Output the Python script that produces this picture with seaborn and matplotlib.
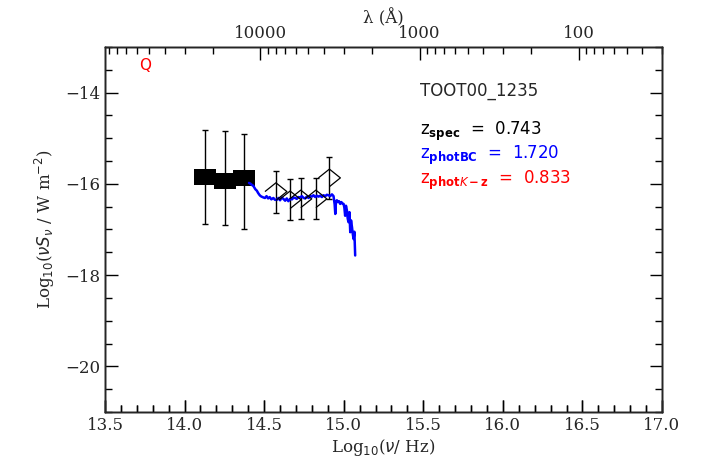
import numpy as np
import pandas as pd
import matplotlib
matplotlib.use("Agg")
import matplotlib.pyplot as plt
import matplotlib.ticker as mticker
import seaborn as sns

# photometry: filled squares (near-IR) and open diamonds (optical)
sq_lognu = [14.129, 14.255, 14.374]
sq_flux = [-15.86, -15.94, -15.87]
sq_err_lo = [1.02, 0.96, 1.11]
sq_err_hi = [1.05, 1.10, 0.97]

dm_lognu = [14.574, 14.663, 14.730, 14.825, 14.910]
dm_flux = [-16.17, -16.35, -16.33, -16.33, -15.87]
dm_err = [0.46, 0.45, 0.45, 0.45, 0.46]

# optical spectrum (blue)
spec_lognu = [14.405, 14.415, 14.425, 14.431, 14.438, 14.445, 14.454, 14.462, 14.470, 14.475,
              14.483, 14.490, 14.496, 14.505, 14.515, 14.525, 14.535, 14.545, 14.558, 14.568,
              14.580, 14.590, 14.600, 14.610, 14.621, 14.632, 14.642, 14.652, 14.664, 14.675,
              14.685, 14.695, 14.705, 14.716, 14.726, 14.737, 14.748, 14.758, 14.768, 14.779,
              14.790, 14.800, 14.810, 14.821, 14.831, 14.842, 14.852, 14.863, 14.873, 14.884,
              14.894, 14.904, 14.915, 14.926, 14.936, 14.943, 14.947, 14.951, 14.957, 14.963,
              14.970, 14.978, 14.985, 14.992, 14.999, 15.004, 15.009, 15.014, 15.020, 15.025,
              15.030, 15.036, 15.041, 15.046, 15.052, 15.057, 15.062, 15.067, 15.072]
spec_flux = [-15.98, -16.00, -16.03, -16.04, -16.08, -16.12, -16.15, -16.20, -16.24, -16.26,
             -16.28, -16.29, -16.30, -16.31, -16.27, -16.32, -16.29, -16.34, -16.31, -16.35,
             -16.35, -16.31, -16.36, -16.30, -16.33, -16.37, -16.32, -16.38, -16.33, -16.34,
             -16.30, -16.31, -16.33, -16.29, -16.30, -16.27, -16.31, -16.32, -16.28, -16.31,
             -16.27, -16.28, -16.25, -16.29, -16.26, -16.28, -16.26, -16.29, -16.25, -16.27,
             -16.24, -16.25, -16.27, -16.23, -16.27, -16.45, -16.66, -16.40, -16.36, -16.40,
             -16.38, -16.44, -16.40, -16.43, -16.44, -16.52, -16.70, -16.48, -16.58, -16.76,
             -16.84, -16.62, -17.06, -16.80, -16.95, -17.10, -17.21, -17.05, -17.57]

# top axis (wavelength, Angstrom) ticks
lam_major = [10000, 1000, 100]
lam_minor = [90000, 80000, 70000, 60000, 50000, 40000, 30000, 20000,
             9000, 8000, 7000, 6000, 5000, 4000, 3000, 2000,
             900, 800, 700, 600, 500, 400, 300, 200,
             90, 80, 70, 60, 50, 40, 30]

name = "TOOT00_1235"
z_spec, z_bc, z_kz = "0.743", "1.720", "0.833"

sns.set_style("ticks")
plt.rcParams.update({
    "font.family": ["DejaVu Serif"],
    "axes.linewidth": 1.0,
})

fig = plt.figure(figsize=(7.02, 4.68), dpi=100)
ax = fig.add_axes([0.1496, 0.1197, 0.7934, 0.78])

ax.errorbar(sq_lognu, sq_flux, yerr=[sq_err_lo, sq_err_hi], fmt="none",
            ecolor="black", elinewidth=1, capsize=2.5)
ax.errorbar(dm_lognu, dm_flux, yerr=dm_err, fmt="none",
            ecolor="black", elinewidth=1, capsize=2.5)

rect = [(-1, -0.75), (1, -0.75), (1, 0.75), (-1, 0.75)]
diam = [(-1, 0), (0, 0.8), (1, 0), (0, -0.8)]
sns.scatterplot(x=sq_lognu, y=sq_flux, marker=rect, s=230, color="black",
                edgecolor="black", linewidth=0, ax=ax, zorder=3)
sns.lineplot(x=spec_lognu, y=spec_flux, sort=False, color="blue", lw=1.8,
             ax=ax, zorder=4)
ax.scatter(dm_lognu, dm_flux, marker=diam, s=250, facecolors="none",
           edgecolors="black", linewidths=0.9, zorder=5)

ax.set_xlim(13.5, 17.0)
ax.set_ylim(-21, -13)
ax.xaxis.set_major_locator(mticker.MultipleLocator(0.5))
ax.xaxis.set_minor_locator(mticker.MultipleLocator(0.1))
ax.yaxis.set_major_locator(mticker.MultipleLocator(2))
ax.yaxis.set_minor_locator(mticker.MultipleLocator(0.5))
ax.xaxis.set_major_formatter(mticker.FormatStrFormatter("%.1f"))
ax.yaxis.set_major_formatter(mticker.FuncFormatter(lambda v, p: f"\u2212{abs(v):.0f}"))
ax.set_xlabel(r"Log$_{10}$($\nu$/ Hz)", fontsize=12, labelpad=2)
ax.set_ylabel(r"Log$_{10}$($\nu S_\nu$ / W m$^{-2}$)", fontsize=12, labelpad=6)

# top axis: wavelength in Angstrom (log lambda = log c - log nu)
lc = np.log10(2.998e18)
top = ax.twiny()
top.set_xlim(ax.get_xlim())
top.xaxis.set_major_locator(mticker.FixedLocator([lc - np.log10(v) for v in lam_major]))
top.xaxis.set_minor_locator(mticker.FixedLocator([lc - np.log10(v) for v in lam_minor]))
top.xaxis.set_major_formatter(mticker.FixedFormatter([str(v) for v in lam_major]))
top.xaxis.set_minor_formatter(mticker.NullFormatter())
top.set_xlabel("\u03bb (\u00c5)", fontsize=12, labelpad=1)

# bottom tick marks on a bare twin so they sit above everything
bot = ax.twiny()
bot.set_xlim(ax.get_xlim())
bot.xaxis.tick_bottom()
bot.xaxis.set_major_locator(mticker.MultipleLocator(0.5))
bot.xaxis.set_minor_locator(mticker.MultipleLocator(0.1))
bot.tick_params(axis="x", which="both", labelbottom=False, labeltop=False,
                bottom=True, top=False)

for a in (ax, top, bot):
    a.tick_params(which="both", direction="in", color="black", width=1)
    a.tick_params(which="major", length=9, labelsize=12)
    a.tick_params(which="minor", length=5)
ax.tick_params(axis="x", which="both", bottom=True, top=False)
ax.tick_params(axis="y", which="both", left=True, right=True)
top.tick_params(axis="x", which="both", bottom=False, top=True)

sans = ["DejaVu Sans"]
ax.text(13.75, -13.41, "Q", color="red", fontsize=11, family=sans, ha="center", va="center")
ax.text(15.48, -13.96, name, fontsize=12, family=sans, va="center")
ax.text(15.48, -14.85, r"z$_{\bf spec}$  =  " + z_spec, fontsize=12, family=sans,
        va="center", color="black")
ax.text(15.48, -15.38, r"z$_{\bf photBC}$  =  " + z_bc, fontsize=12, family=sans,
        va="center", color="blue")
ax.text(15.48, -15.92, r"z$_{{\bf phot}K{\bf -z}}$  =  " + z_kz, fontsize=12, family=sans,
        va="center", color="red")

fig.savefig("out.png", dpi=100)
